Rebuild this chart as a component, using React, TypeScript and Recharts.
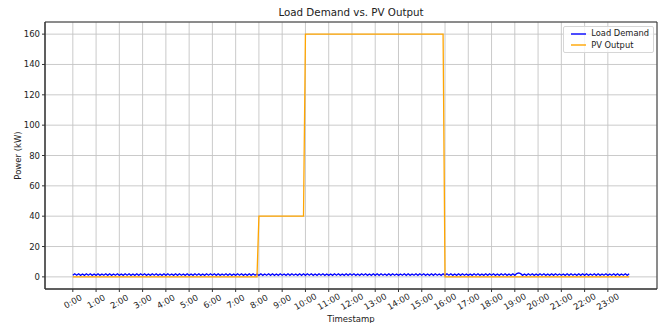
import React from 'react';
import { LineChart, Line, XAxis, YAxis, CartesianGrid, Legend, ReferenceArea, Label } from 'recharts';

const hourLabels = [
  '0:00', '1:00', '2:00', '3:00', '4:00', '5:00', '6:00', '7:00',
  '8:00', '9:00', '10:00', '11:00', '12:00', '13:00', '14:00', '15:00',
  '16:00', '17:00', '18:00', '19:00', '20:00', '21:00', '22:00', '23:00',
];
const hourTicks = [0, 60, 120, 180, 240, 300, 360, 420, 480, 540, 600, 660, 720, 780, 840, 900, 960, 1020, 1080, 1140, 1200, 1260, 1320, 1380];
const yTicks = [0, 20, 40, 60, 80, 100, 120, 140, 160];

// 5-minute readings, one row per hour (kW)
const loadDemand = [
  1.0, 2.0, 1.1, 2.0, 1.0, 1.9, 1.0, 2.0, 1.1, 2.0, 1.0, 1.9,
  1.0, 2.0, 1.0, 1.9, 1.1, 2.0, 1.0, 2.0, 1.0, 1.9, 1.1, 2.0,
  1.0, 1.9, 1.0, 2.0, 1.1, 2.0, 1.0, 1.9, 1.0, 2.0, 1.0, 2.0,
  1.1, 2.0, 1.0, 1.9, 1.0, 2.0, 1.1, 2.0, 1.0, 1.9, 1.0, 2.0,
  1.0, 2.0, 1.1, 1.9, 1.0, 2.0, 1.0, 2.0, 1.1, 1.9, 1.0, 2.0,
  1.0, 1.9, 1.0, 2.0, 1.1, 2.0, 1.0, 1.9, 1.0, 2.0, 1.1, 2.0,
  1.1, 2.0, 1.0, 2.0, 1.0, 1.9, 1.1, 2.0, 1.0, 2.0, 1.0, 1.9,
  1.0, 2.0, 1.1, 2.0, 1.0, 1.9, 1.0, 2.0, 1.0, 2.0, 1.1, 1.9,
  1.0, 2.0, 1.0, 1.9, 1.1, 2.0, 1.0, 2.0, 1.0, 1.9, 1.0, 2.0,
  1.1, 1.9, 1.0, 2.0, 1.0, 2.0, 1.1, 1.9, 1.0, 2.0, 1.0, 2.0,
  1.0, 2.0, 1.1, 2.0, 1.0, 1.9, 1.0, 2.0, 1.1, 2.0, 1.0, 1.9,
  1.0, 1.9, 1.0, 2.0, 1.1, 2.0, 1.0, 1.9, 1.0, 2.0, 1.0, 2.0,
  1.1, 2.0, 1.0, 1.9, 1.0, 2.0, 1.1, 2.0, 1.0, 1.9, 1.0, 2.0,
  1.0, 2.0, 1.0, 2.0, 1.1, 1.9, 1.0, 2.0, 1.0, 2.0, 1.1, 1.9,
  1.0, 1.9, 1.1, 2.0, 1.0, 2.0, 1.0, 1.9, 1.1, 2.0, 1.0, 2.0,
  1.1, 2.0, 1.0, 1.9, 1.0, 2.0, 1.0, 2.0, 1.1, 1.9, 1.0, 2.0,
  1.0, 2.0, 1.1, 2.0, 1.0, 1.9, 1.0, 2.0, 1.0, 2.0, 1.1, 1.9,
  1.0, 1.9, 1.0, 2.0, 1.1, 2.0, 1.0, 1.9, 1.0, 2.0, 1.0, 2.0,
  1.1, 2.0, 1.0, 1.9, 1.0, 2.0, 1.1, 2.0, 1.0, 1.9, 1.0, 2.0,
  1.0, 2.2, 2.6, 2.1, 1.0, 1.9, 1.0, 2.0, 1.1, 2.0, 1.0, 1.9,
  1.0, 2.0, 1.1, 2.0, 1.0, 1.9, 1.0, 2.0, 1.0, 2.0, 1.1, 1.9,
  1.1, 1.9, 1.0, 2.0, 1.0, 2.0, 1.1, 1.9, 1.0, 2.0, 1.0, 2.0,
  1.0, 2.0, 1.0, 1.9, 1.1, 2.0, 1.0, 2.0, 1.0, 1.9, 1.1, 2.0,
  1.0, 1.9, 1.1, 2.0, 1.0, 2.0, 1.0, 1.9, 1.1, 2.0, 1.0, 2.0,
];

const pvOutput = [
  0, 0, 0, 0, 0, 0, 0, 0, 0, 0, 0, 0,
  0, 0, 0, 0, 0, 0, 0, 0, 0, 0, 0, 0,
  0, 0, 0, 0, 0, 0, 0, 0, 0, 0, 0, 0,
  0, 0, 0, 0, 0, 0, 0, 0, 0, 0, 0, 0,
  0, 0, 0, 0, 0, 0, 0, 0, 0, 0, 0, 0,
  0, 0, 0, 0, 0, 0, 0, 0, 0, 0, 0, 0,
  0, 0, 0, 0, 0, 0, 0, 0, 0, 0, 0, 0,
  0, 0, 0, 0, 0, 0, 0, 0, 0, 0, 0, 0,
  40, 40, 40, 40, 40, 40, 40, 40, 40, 40, 40, 40,
  40, 40, 40, 40, 40, 40, 40, 40, 40, 40, 40, 40,
  160, 160, 160, 160, 160, 160, 160, 160, 160, 160, 160, 160,
  160, 160, 160, 160, 160, 160, 160, 160, 160, 160, 160, 160,
  160, 160, 160, 160, 160, 160, 160, 160, 160, 160, 160, 160,
  160, 160, 160, 160, 160, 160, 160, 160, 160, 160, 160, 160,
  160, 160, 160, 160, 160, 160, 160, 160, 160, 160, 160, 160,
  160, 160, 160, 160, 160, 160, 160, 160, 160, 160, 160, 160,
  0, 0, 0, 0, 0, 0, 0, 0, 0, 0, 0, 0,
  0, 0, 0, 0, 0, 0, 0, 0, 0, 0, 0, 0,
  0, 0, 0, 0, 0, 0, 0, 0, 0, 0, 0, 0,
  0, 0, 0, 0, 0, 0, 0, 0, 0, 0, 0, 0,
  0, 0, 0, 0, 0, 0, 0, 0, 0, 0, 0, 0,
  0, 0, 0, 0, 0, 0, 0, 0, 0, 0, 0, 0,
  0, 0, 0, 0, 0, 0, 0, 0, 0, 0, 0, 0,
  0, 0, 0, 0, 0, 0, 0, 0, 0, 0, 0, 0,
];

const data = loadDemand.map((load, i) => ({ minute: i * 5, load, pv: pvOutput[i] }));

const FONT = '"DejaVu Sans", sans-serif';
const X_DOMAIN: [number, number] = [-71.75, 1506.75];
const Y_DOMAIN: [number, number] = [-8, 168];

const HourTick = (props: any) => {
  const { x, y, payload } = props;
  const label = hourLabels[hourTicks.indexOf(payload.value)];
  const cy = y + 7.5;
  return (
    <text
      x={x}
      y={cy}
      transform={`rotate(-30, ${x}, ${cy})`}
      textAnchor="middle"
      dominantBaseline="central"
      fontSize={8.5}
      fontFamily={FONT}
      fill="#222"
    >
      {label}
    </text>
  );
};

const LegendBox = () => (
  <div
    style={{
      background: 'rgba(255,255,255,0.8)',
      border: '1px solid #d6d6d6',
      borderRadius: 2,
      padding: '1px 4px 1px 7px',
      fontFamily: FONT,
      fontSize: 8.3,
      color: '#222',
      lineHeight: '11.5px',
    }}
  >
    {[
      { name: 'Load Demand', color: '#0000ff' },
      { name: 'PV Output', color: '#ffa500' },
    ].map((item) => (
      <div key={item.name} style={{ display: 'flex', alignItems: 'center' }}>
        <svg width={15} height={4} style={{ marginRight: 5 }}>
          <line x1={0} x2={15} y1={2} y2={2} stroke={item.color} strokeWidth={1.4} />
        </svg>
        {item.name}
      </div>
    ))}
  </div>
);

export default function App() {
  return (
    <div style={{ position: 'absolute', left: 0, top: 0, width: 660, height: 323, background: '#fff' }}>
      <div
        style={{
          position: 'absolute',
          left: 45,
          width: 612,
          top: 6,
          textAlign: 'center',
          fontFamily: FONT,
          fontSize: 10.3,
          color: '#222',
        }}
      >
        Load Demand vs. PV Output
      </div>
      <LineChart width={660} height={323} data={data} margin={{ top: 22, right: 3, left: 0, bottom: 0 }}>
        <CartesianGrid stroke="#c4c4c4" strokeWidth={0.9} />
        <XAxis
          dataKey="minute"
          type="number"
          domain={X_DOMAIN}
          allowDataOverflow
          ticks={hourTicks}
          interval={0}
          height={34}
          tickSize={3}
          tickMargin={2}
          tick={<HourTick />}
          stroke="#333"
        >
          <Label value="Timestamp" position="insideBottom" offset={1} fontSize={8.5} fontFamily={FONT} fill="#222" />
        </XAxis>
        <YAxis
          type="number"
          domain={Y_DOMAIN}
          allowDataOverflow
          ticks={yTicks}
          interval={0}
          width={45}
          tickSize={3}
          tickMargin={2}
          tick={{ fontSize: 8.5, fontFamily: FONT, fill: '#222' }}
          stroke="#333"
        >
          <Label value="Power (kW)" angle={-90} position="center" dx={-5} fontSize={8.5} fontFamily={FONT} fill="#222" />
        </YAxis>
        <ReferenceArea
          x1={X_DOMAIN[0]}
          x2={X_DOMAIN[1]}
          y1={Y_DOMAIN[0]}
          y2={Y_DOMAIN[1]}
          fill="none"
          stroke="#333"
          strokeWidth={1}
          ifOverflow="visible"
        />
        <Line dataKey="load" name="Load Demand" stroke="#0000ff" strokeWidth={1.3} dot={false} isAnimationActive={false} />
        <Line dataKey="pv" name="PV Output" stroke="#ffa500" strokeWidth={1.3} dot={false} isAnimationActive={false} />
        <Legend
          layout="vertical"
          align="center"
          verticalAlign="middle"
          content={<LegendBox />}
          wrapperStyle={{ top: 26, right: 6, width: 'auto' }}
        />
      </LineChart>
    </div>
  );
}
